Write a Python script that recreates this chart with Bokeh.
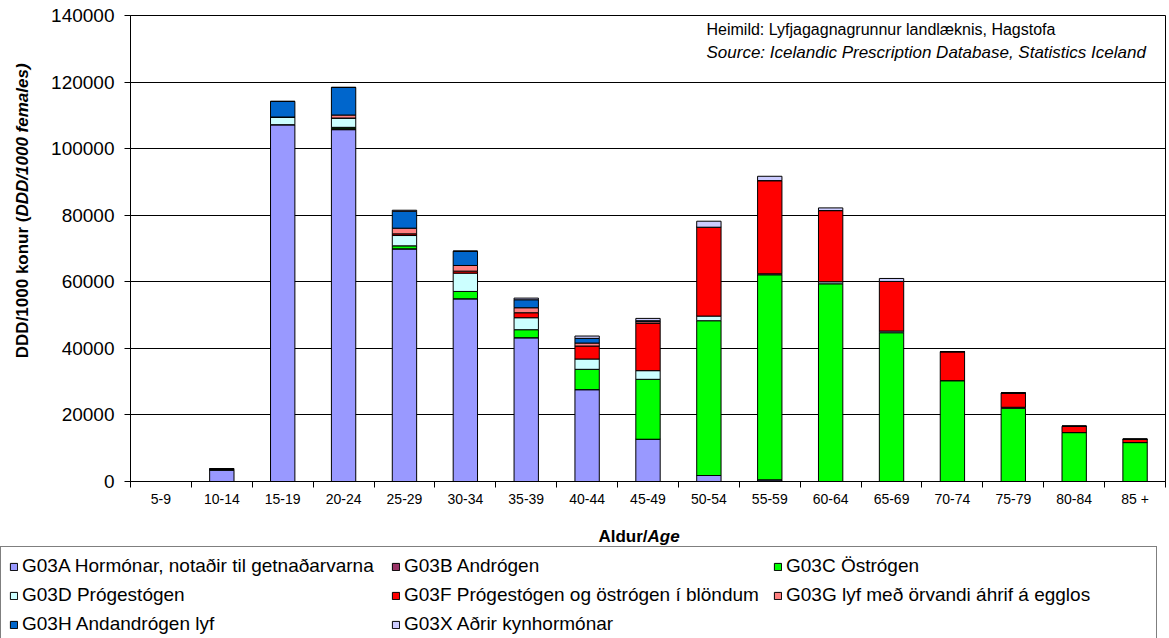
import numpy as np
from bokeh.plotting import figure
from bokeh.layouts import column, row
from bokeh.models import (ColumnDataSource, FixedTicker, Legend, LegendItem, Label,
                          Range1d, NumeralTickFormatter, BoxAnnotation)
from bokeh.embed import file_html
from bokeh.resources import INLINE

ages = ["5-9", "10-14", "15-19", "20-24", "25-29", "30-34", "35-39", "40-44", "45-49",
        "50-54", "55-59", "60-64", "65-69", "70-74", "75-79", "80-84", "85 +"]

g03a = [0, 3400, 107200, 105700, 69900, 54900, 43200, 27600, 12700, 1800, 500, 0, 0, 0, 0, 0, 0]
g03b = [0, 0, 0, 300, 0, 0, 0, 0, 0, 0, 0, 0, 0, 0, 0, 0, 0]
g03c = [0, 0, 0, 400, 900, 2200, 2400, 6100, 18000, 46500, 61600, 59400, 44700, 30300, 22000, 14700, 11700]
g03d = [0, 200, 2300, 2800, 3100, 5500, 3600, 3100, 2600, 1400, 300, 600, 500, 0, 300, 0, 0]
g03f = [0, 0, 0, 0, 500, 600, 1500, 3900, 14200, 26700, 28000, 21400, 14900, 8700, 4300, 1900, 1000]
g03g = [0, 0, 0, 900, 1700, 1700, 1500, 900, 500, 0, 0, 0, 0, 0, 0, 0, 0]
g03h = [0, 300, 4700, 8300, 5100, 4300, 2400, 1400, 300, 0, 0, 0, 0, 0, 0, 0, 0]
g03x = [0, 0, 0, 0, 300, 0, 500, 700, 700, 1800, 1300, 800, 900, 0, 0, 0, 0]

keys = ["G03A", "G03B", "G03C", "G03D", "G03F", "G03G", "G03H", "G03X"]
series_labels = ["G03A Hormónar, notaðir til getnaðarvarna", "G03B Andrógen", "G03C Östrógen",
                 "G03D Prógestógen", "G03F Prógestógen og östrógen í blöndum",
                 "G03G lyf með örvandi áhrif á egglos", "G03H Andandrógen lyf",
                 "G03X Aðrir kynhormónar"]
colors = ["#9999FF", "#993366", "#00FF00", "#CCFFFF", "#FF0000", "#FF8080", "#0066CC", "#CCCCFF"]
y_ticks = [0, 20000, 40000, 60000, 80000, 100000, 120000, 140000]

FONT = "Liberation Sans"
W, H = 1169, 638
STRIP_H = 4
LEFT_W = 40
TOP_H = 515


def blank(width, height):
    f = figure(width=width, height=height, output_backend="svg", toolbar_location=None,
               x_range=Range1d(0, width), y_range=Range1d(0, height),
               x_axis_location=None, y_axis_location=None, min_border=0)
    f.grid.grid_line_color = None
    f.outline_line_color = None
    f.background_fill_color = "white"
    f.border_fill_color = "white"
    return f


# ---------- cropped title strip ----------
strip = blank(W, STRIP_H)
strip.add_layout(BoxAnnotation(left=236, right=1000, bottom=0, top=STRIP_H,
                               left_units="screen", right_units="screen",
                               bottom_units="screen", top_units="screen",
                               fill_color="#DFDFD7", fill_alpha=1, line_color=None))

# ---------- main chart ----------
xs = list(range(len(ages)))
source = ColumnDataSource(dict(x=xs, G03A=g03a, G03B=g03b, G03C=g03c, G03D=g03d,
                               G03F=g03f, G03G=g03g, G03H=g03h, G03X=g03x))

main_h = TOP_H - STRIP_H
p = figure(width=W - LEFT_W, height=main_h, output_backend="svg", toolbar_location=None,
           x_range=Range1d(-0.5, len(ages) - 0.5), y_range=Range1d(0, 140000),
           min_border_left=90, min_border_right=4, min_border_top=15 - STRIP_H,
           min_border_bottom=34)
p.background_fill_color = "white"
p.border_fill_color = "white"
p.outline_line_color = "black"

rs = p.vbar_stack(keys, x="x", width=0.4, source=source, fill_color=colors,
                  line_color="black", line_width=1)

p.xaxis.ticker = FixedTicker(ticks=xs, minor_ticks=[i - 0.5 for i in range(len(ages) + 1)])
p.xaxis.major_label_overrides = {i: a for i, a in enumerate(ages)}
p.xaxis.major_tick_out = 0
p.xaxis.major_tick_in = 0
p.xaxis.minor_tick_out = 6
p.xaxis.minor_tick_in = 0
p.xaxis.minor_tick_line_color = "black"
p.xaxis.axis_line_color = "black"
p.xaxis.major_label_standoff = 3
p.xaxis.major_label_text_font = FONT
p.xaxis.major_label_text_font_size = "14px"
p.xaxis.major_label_text_color = "black"

p.yaxis.ticker = FixedTicker(ticks=y_ticks)
p.yaxis.formatter = NumeralTickFormatter(format="0")
p.yaxis.major_tick_out = 6
p.yaxis.major_tick_in = 0
p.yaxis.minor_tick_out = 0
p.yaxis.minor_tick_in = 0
p.yaxis.major_tick_line_color = "black"
p.yaxis.axis_line_color = "black"
p.yaxis.major_label_standoff = 10
p.yaxis.major_label_text_font = FONT
p.yaxis.major_label_text_font_size = "19px"
p.yaxis.major_label_text_color = "black"

p.xgrid.grid_line_color = None
p.ygrid.ticker = FixedTicker(ticks=y_ticks)
p.ygrid.grid_line_color = "black"
p.ygrid.grid_line_width = 1

p.add_layout(Label(x=576, y=452, x_units="screen", y_units="screen",
                   text="Heimild: Lyfjagagnagrunnur landlæknis, Hagstofa",
                   text_font=FONT, text_font_size="16px", text_color="black",
                   text_baseline="middle"))
p.add_layout(Label(x=576, y=429, x_units="screen", y_units="screen",
                   text="Source: Icelandic Prescription Database, Statistics Iceland",
                   text_font=FONT, text_font_size="17px", text_font_style="italic",
                   text_color="black", text_baseline="middle"))

# ---------- y-axis title (mixed styles) ----------
left = blank(LEFT_W, main_h)
ys = 17
anchor = TOP_H - 250
for txt, style, align in [("DDD/1000 konur (", "bold", "right"),
                          ("DDD/1000 females)", "bold italic", "left")]:
    left.add_layout(Label(x=22, y=anchor, x_units="screen", y_units="screen", text=txt,
                          angle=np.pi / 2, text_font=FONT, text_font_size=f"{ys}px",
                          text_font_style=style, text_color="black",
                          text_align=align, text_baseline="middle"))

# ---------- x-axis title and legend ----------
bottom = blank(W, H - TOP_H)
for txt, style, align in [("Aldur/", "bold", "right"), ("Age", "bold italic", "left")]:
    bottom.add_layout(Label(x=647, y=H - 536, x_units="screen", y_units="screen", text=txt,
                            text_font=FONT, text_font_size="17px", text_font_style=style,
                            text_color="black", text_align=align, text_baseline="middle"))

proxies = bottom.vbar_stack(keys, x="x", width=0.4, source=source, fill_color=colors,
                            line_color="black", line_width=1, visible=False)
items = [LegendItem(label=lab, renderers=[r]) for lab, r in zip(series_labels, proxies)]
legend = Legend(items=items, orientation="horizontal", ncols=3, location=(0, -6),
                glyph_width=9, glyph_height=9, label_standoff=4, label_width=362,
                label_height=22, spacing=7, padding=8, margin=0,
                border_line_color="black", border_line_width=1,
                label_text_font=FONT, label_text_font_size="19px",
                label_text_color="black", background_fill_color="white")
bottom.add_layout(legend, "center")

layout = column(strip, row(left, p, spacing=0), bottom, spacing=0)
open("out.html", "w").write(file_html(layout, INLINE))
